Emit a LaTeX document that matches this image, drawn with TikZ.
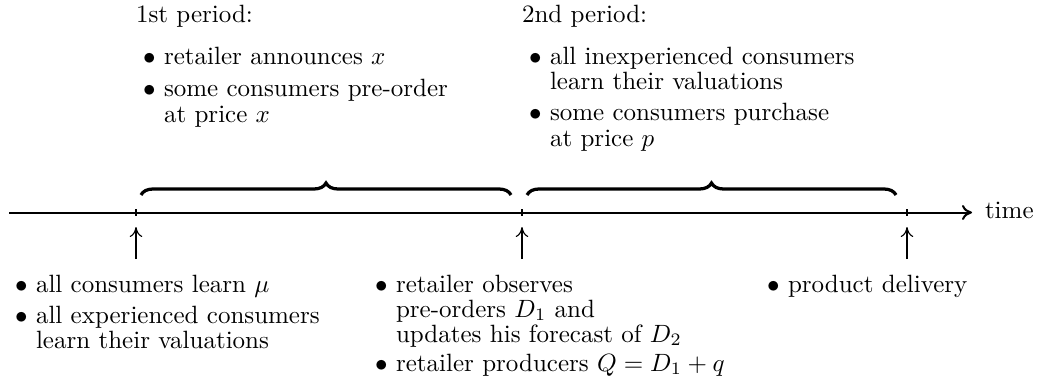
\documentclass[tikz,border=0pt]{standalone}
\usetikzlibrary{decorations.pathreplacing,arrows.meta}
\begin{document}
\begin{tikzpicture}[x=0.4pt,y=-0.4pt,
  txt/.style={anchor=base west,inner sep=0pt,outer sep=0pt},
  axisline/.style={thick,-{To[length=4pt,width=6pt]}},
  tickline/.style={thick},
  uparrow/.style={line width=0.45pt,-{To[length=4pt,width=5pt]}},
  brc/.style={decorate,decoration={brace,amplitude=4.8pt},line width=1.3pt}]
\useasboundingbox (0,0) rectangle (1038,386);

% timeline
\coordinate (start) at (9,212.5);
\coordinate (end) at (972,212.5);
\draw[axisline] (start) -- (end);
\node[txt] (time) at (985,218.5) {time};

% ticks
\coordinate (k1t) at (136,209); \coordinate (k1b) at (136,216);
\coordinate (k2t) at (522,209); \coordinate (k2b) at (522,216);
\coordinate (k3t) at (907,209); \coordinate (k3b) at (907,216);
\draw[tickline] (k1t) -- (k1b);
\draw[tickline] (k2t) -- (k2b);
\draw[tickline] (k3t) -- (k3b);

% up arrows
\coordinate (a1) at (136,259); \coordinate (a1tip) at (136,227);
\coordinate (a2) at (522,259); \coordinate (a2tip) at (522,227);
\coordinate (a3) at (907,259); \coordinate (a3tip) at (907,227);
\draw[uparrow] (a1) -- (a1tip);
\draw[uparrow] (a2) -- (a2tip);
\draw[uparrow] (a3) -- (a3tip);

% braces
\coordinate (p1s) at (141,195); \coordinate (p1e) at (511,195);
\coordinate (p2s) at (527,195); \coordinate (p2e) at (896,195);
\draw[brc] (p1s) -- (p1e);
\draw[brc] (p2s) -- (p2e);

% first period text
\node[txt] (h1) at (136,23) {1st period:};
\node[txt] (b11) at (143,65) {$\bullet$};
\node[txt] (t11) at (164,65) {retailer announces $x$};
\node[txt] (b12) at (143,97) {$\bullet$};
\node[txt] (t12) at (164,97) {some consumers pre-order};
\node[txt] (t12b) at (164,122) {at price $x$};

% second period text
\node[txt] (h2) at (522,23) {2nd period:};
\node[txt] (b21) at (529,65) {$\bullet$};
\node[txt] (t21) at (550,65) {all inexperienced consumers};
\node[txt] (t21b) at (550,90) {learn their valuations};
\node[txt] (b22) at (529,121) {$\bullet$};
\node[txt] (t22) at (550,121) {some consumers purchase};
\node[txt] (t22b) at (550,146) {at price $p$};

% bottom left
\node[txt] (b31) at (15,292) {$\bullet$};
\node[txt] (t31) at (36,292) {all consumers learn $\mu$};
\node[txt] (b32) at (15,323) {$\bullet$};
\node[txt] (t32) at (36,323) {all experienced consumers};
\node[txt] (t32b) at (36,348) {learn their valuations};

% bottom middle
\node[txt] (b41) at (375,292) {$\bullet$};
\node[txt] (t41) at (396,292) {retailer observes};
\node[txt] (t41b) at (396,317) {pre-orders $D_1$ and};
\node[txt] (t41c) at (396,342) {updates his forecast of $D_2$};
\node[txt] (b42) at (375,371) {$\bullet$};
\node[txt] (t42) at (396,371) {retailer producers $Q=D_1+q$};

% bottom right
\node[txt] (b51) at (767,292) {$\bullet$};
\node[txt] (t51) at (788,292) {product delivery};
\end{tikzpicture}
\end{document}
